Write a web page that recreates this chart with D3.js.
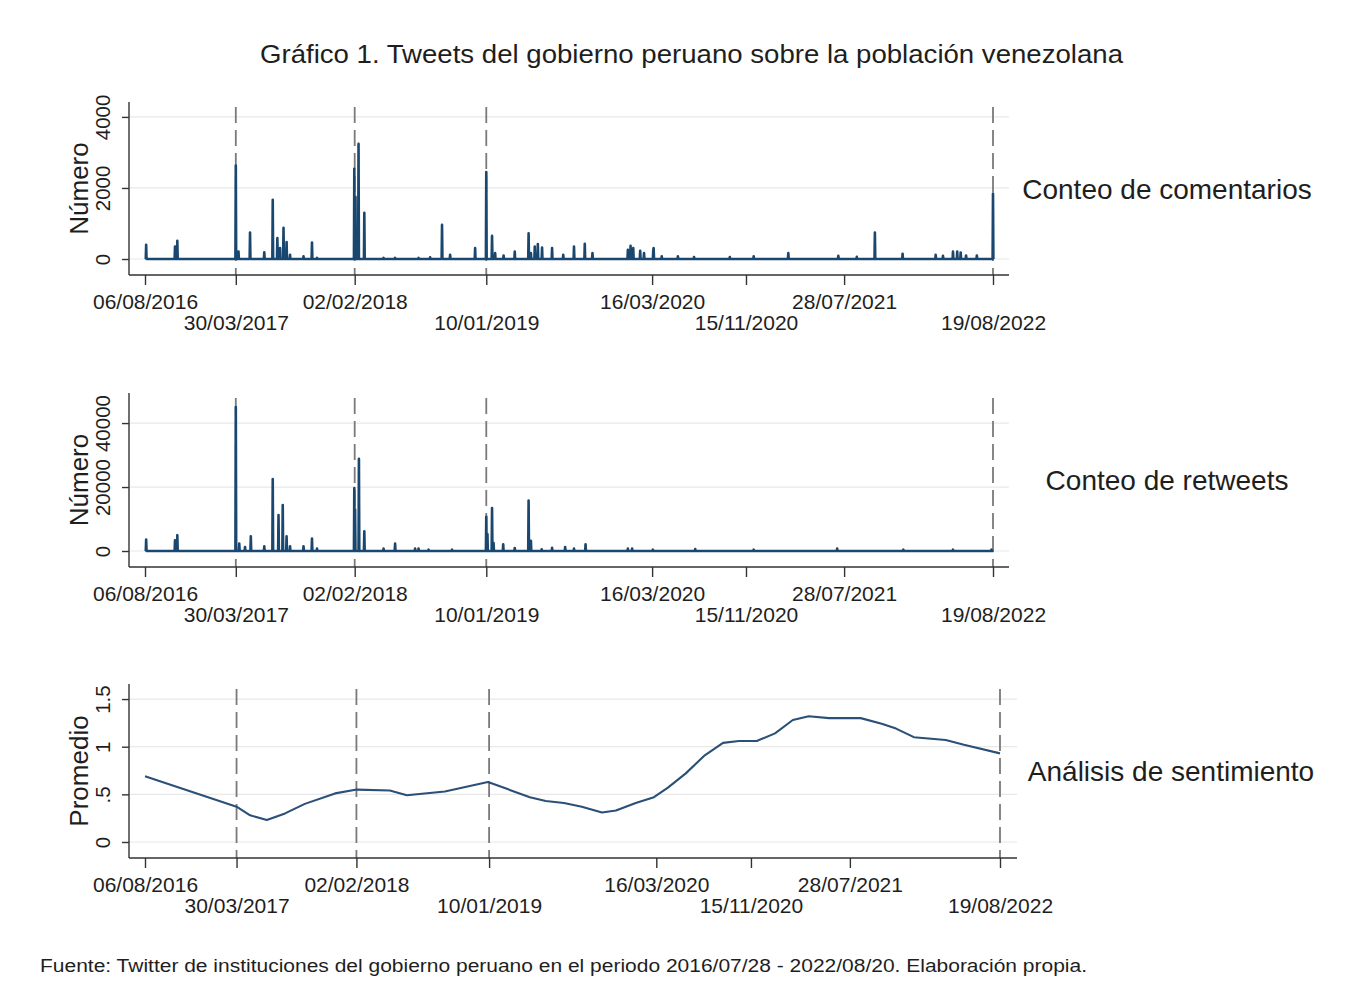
<!DOCTYPE html>
<html>
<head>
<meta charset="utf-8">
<script src="https://cdn.jsdelivr.net/npm/d3@7/dist/d3.min.js"></script>
<style>
    body { margin: 0; background: #fff; }
    text { font-family: "Liberation Sans", Arial, sans-serif; fill: #1e1e1e; }
</style>
</head>
<body>
<svg id="chart" width="1362" height="993"></svg>
<script>
/*jslint browser: true*/
/*global d3*/

// x axis ticks (same for every panel) and the dashed reference dates
var tickDates = ['2016-08-06', '2017-03-30', '2018-02-02', '2019-01-10',
                 '2020-03-16', '2020-11-15', '2021-07-28', '2022-08-19'];
var eventDates = ['2017-03-30', '2018-02-02', '2019-01-10', '2022-08-19'];
var seriesStart = '2016-08-08';
var seriesEnd = '2022-08-20';

// daily comment counts, days not listed are 0
var comentarios = [
    ['2016-08-09', 400], ['2016-10-23', 350], ['2016-10-29', 510],
    ['2017-03-30', 2630], ['2017-04-06', 210], ['2017-05-06', 745], ['2017-06-12', 190],
    ['2017-07-04', 1670], ['2017-07-16', 590], ['2017-07-23', 310], ['2017-08-01', 880],
    ['2017-08-09', 475], ['2017-08-18', 120], ['2017-09-22', 75], ['2017-10-14', 465],
    ['2017-10-27', 30],
    ['2018-02-01', 2540], ['2018-02-04', 1750], ['2018-02-12', 3240], ['2018-02-27', 1300],
    ['2018-04-18', 30], ['2018-05-18', 30], ['2018-07-18', 30], ['2018-08-17', 50],
    ['2018-09-17', 960], ['2018-10-08', 120], ['2018-12-12', 310],
    ['2019-01-10', 2450], ['2019-01-25', 650], ['2019-02-02', 170], ['2019-02-24', 100],
    ['2019-03-25', 210], ['2019-04-30', 725], ['2019-05-06', 170], ['2019-05-16', 350],
    ['2019-05-24', 420], ['2019-06-04', 325], ['2019-06-30', 310], ['2019-07-29', 120],
    ['2019-08-26', 350], ['2019-09-23', 430], ['2019-10-13', 170],
    ['2020-01-13', 260], ['2020-01-20', 370], ['2020-01-27', 310], ['2020-02-14', 230],
    ['2020-02-24', 170], ['2020-03-19', 250], ['2020-03-20', 310], ['2020-04-10', 75],
    ['2020-05-22', 75], ['2020-07-03', 55], ['2020-10-04', 55], ['2020-12-05', 75],
    ['2021-03-05', 170], ['2021-07-13', 90], ['2021-08-30', 60], ['2021-10-16', 745],
    ['2021-12-27', 150],
    ['2022-03-23', 120], ['2022-04-11', 90], ['2022-05-07', 210], ['2022-05-18', 210],
    ['2022-05-27', 185], ['2022-06-10', 100], ['2022-07-08', 100], ['2022-08-19', 1840]
];

// daily retweet counts, days not listed are 0
var retweets = [
    ['2016-08-09', 3580], ['2016-10-23', 3370], ['2016-10-29', 4950],
    ['2017-03-30', 45000], ['2017-04-08', 2300], ['2017-04-23', 1260], ['2017-05-08', 4630],
    ['2017-06-12', 1470], ['2017-07-04', 22500], ['2017-07-19', 11270], ['2017-07-30', 14400],
    ['2017-08-09', 4630], ['2017-08-18', 1470], ['2017-09-22', 1470], ['2017-10-14', 3900],
    ['2017-10-27', 740],
    ['2018-02-01', 19700], ['2018-02-03', 13000], ['2018-02-13', 28800], ['2018-02-27', 6200],
    ['2018-04-18', 740], ['2018-05-18', 2300], ['2018-07-09', 740], ['2018-07-18', 740],
    ['2018-08-13', 420], ['2018-10-13', 420],
    ['2019-01-10', 10700], ['2019-01-13', 5300], ['2019-01-25', 13400], ['2019-01-29', 2500],
    ['2019-02-23', 2100], ['2019-03-25', 950], ['2019-04-30', 15800], ['2019-05-06', 3200],
    ['2019-06-03', 530], ['2019-06-30', 1000], ['2019-08-03', 1260], ['2019-08-26', 740],
    ['2019-09-25', 2100],
    ['2020-01-13', 740], ['2020-01-24', 740], ['2020-03-18', 420], ['2020-07-06', 630],
    ['2020-12-05', 420], ['2021-07-10', 740], ['2021-12-29', 420], ['2022-05-07', 420],
    ['2022-08-15', 420]
];

// smoothed average sentiment
var sentimiento = [
    ['2016-08-06', 0.69], ['2017-03-30', 0.37], ['2017-05-04', 0.28], ['2017-06-16', 0.23],
    ['2017-08-02', 0.30], ['2017-09-22', 0.40], ['2017-12-09', 0.51], ['2018-02-03', 0.55],
    ['2018-04-29', 0.54], ['2018-06-12', 0.49], ['2018-09-18', 0.53], ['2019-01-07', 0.63],
    ['2019-04-25', 0.47], ['2019-06-05', 0.43], ['2019-07-22', 0.41], ['2019-09-06', 0.37],
    ['2019-10-28', 0.31], ['2019-12-03', 0.33], ['2020-01-23', 0.41], ['2020-03-10', 0.47],
    ['2020-04-15', 0.57], ['2020-05-31', 0.72], ['2020-07-19', 0.91], ['2020-09-04', 1.04],
    ['2020-10-15', 1.06], ['2020-11-30', 1.06], ['2021-01-16', 1.14], ['2021-03-03', 1.28],
    ['2021-04-13', 1.32], ['2021-06-04', 1.30], ['2021-08-25', 1.30], ['2021-10-18', 1.24],
    ['2021-11-24', 1.19], ['2022-01-09', 1.10], ['2022-04-01', 1.07], ['2022-05-18', 1.02],
    ['2022-08-19', 0.93]
];

var comentariosTicks = [0, 2000, 4000];
var retweetsTicks = [0, 20000, 40000];
var sentimientoTicks = [0, 0.5, 1, 1.5];

var title = 'Gráfico 1. Tweets del gobierno peruano sobre la población venezolana';
var footer = 'Fuente: Twitter de instituciones del gobierno peruano en el periodo ' +
    '2016/07/28 - 2022/08/20. Elaboración propia.';

var parse = d3.timeParse('%Y-%m-%d'),
    fmtDay = d3.timeFormat('%Y-%m-%d'),
    fmtTick = d3.timeFormat('%d/%m/%Y'),
    navy = '#1a476f',
    svg = d3.select('#chart');

// turn the list of non-zero days into a daily series
function daily(counts) {
    var byDay = new Map(counts),
        days = d3.timeDay.range(parse(seriesStart), d3.timeDay.offset(parse(seriesEnd), 1));
    return days.map(function (day) {
        return {date: day, value: byDay.get(fmtDay(day)) || 0};
    });
}

function pairs(list) {
    return list.map(function (d) { return {date: parse(d[0]), value: d[1]}; });
}

// stata-ish number labels: .5 instead of 0.5
function stataNum(d) {
    return String(d).replace(/^0\./, '.');
}

var panels = [
    {label: 'Conteo de comentarios', ylabel: 'Número', data: daily(comentarios),
     ticks: comentariosTicks, yDomain: [-450, 4420], top: 102, bottom: 275,
     xRange: [145, 993], axisEnd: 1009, labelX: 1167, width: 2.6, color: navy},
    {label: 'Conteo de retweets', ylabel: 'Número', data: daily(retweets),
     ticks: retweetsTicks, yDomain: [-5000, 49400], top: 393, bottom: 567,
     xRange: [145, 993], axisEnd: 1009, labelX: 1167, width: 2.6, color: navy},
    {label: 'Análisis de sentimiento', ylabel: 'Promedio', data: pairs(sentimiento),
     ticks: sentimientoTicks, yDomain: [-0.168, 1.658], top: 684, bottom: 858,
     xRange: [145, 1000], axisEnd: 1017, labelX: 1171, width: 2.1, color: '#2b5077'}
];

var axisLeftX = 129;

svg.append('text')
    .attr('x', 260)
    .attr('y', 63)
    .attr('textLength', 863)
    .attr('lengthAdjust', 'spacingAndGlyphs')
    .style('font-size', '25px')
    .text(title);

svg.append('text')
    .attr('x', 40)
    .attr('y', 972)
    .attr('textLength', 1047)
    .attr('lengthAdjust', 'spacingAndGlyphs')
    .style('font-size', '17.5px')
    .text(footer);

panels.forEach(function (p) {
    var g = svg.append('g'),
        x = d3.scaleTime()
            .domain([parse(tickDates[0]), parse(tickDates[tickDates.length - 1])])
            .range(p.xRange),
        y = d3.scaleLinear().domain(p.yDomain).range([p.bottom, p.top]),
        mid = (p.top + p.bottom) / 2;

    // grid
    g.selectAll('line.grid')
        .data(p.ticks)
        .enter().append('line')
        .attr('class', 'grid')
        .attr('x1', axisLeftX)
        .attr('x2', p.axisEnd)
        .attr('y1', function (d) { return y(d); })
        .attr('y2', function (d) { return y(d); })
        .attr('stroke', '#e8e8e8')
        .attr('stroke-width', 1.2);

    // dashed event lines
    g.selectAll('line.event')
        .data(eventDates)
        .enter().append('line')
        .attr('class', 'event')
        .attr('x1', function (d) { return x(parse(d)); })
        .attr('x2', function (d) { return x(parse(d)); })
        .attr('y1', p.top + 5)
        .attr('y2', p.bottom)
        .attr('stroke', '#7a7a7a')
        .attr('stroke-width', 1.8)
        .attr('stroke-dasharray', '16,7');

    g.append('path')
        .datum(p.data)
        .attr('fill', 'none')
        .attr('stroke', p.color)
        .attr('stroke-width', p.width)
        .attr('stroke-linejoin', 'round')
        .attr('d', d3.line()
              .x(function (d) { return x(d.date); })
              .y(function (d) { return y(d.value); }));

    // y axis
    var yAxis = g.append('g')
        .attr('transform', 'translate(' + axisLeftX + ',0)')
        .call(d3.axisLeft(y).tickValues(p.ticks).tickSize(7).tickFormat(stataNum));
    yAxis.select('.domain').remove();
    yAxis.selectAll('.tick line').attr('stroke', '#333').attr('stroke-width', 1.4);
    yAxis.selectAll('.tick text')
        .attr('x', 0)
        .attr('dy', 0)
        .attr('text-anchor', 'middle')
        .attr('transform', 'translate(-19,0)rotate(-90)')
        .style('font-size', '20.5px')
        .style('font-family', '"Liberation Sans", Arial, sans-serif')
        .attr('fill', '#1e1e1e');

    // x axis
    var xAxis = g.append('g')
        .attr('transform', 'translate(0,' + p.bottom + ')')
        .call(d3.axisBottom(x).tickValues(tickDates.map(parse)).tickSize(10).tickFormat(fmtTick));
    xAxis.select('.domain').remove();
    xAxis.selectAll('.tick line').attr('stroke', '#333').attr('stroke-width', 1.4);
    xAxis.selectAll('.tick text')
        .attr('y', function (d, i) { return i % 2 ? 55 : 34; })
        .attr('dy', 0)
        .style('font-size', '21px')
        .style('font-family', '"Liberation Sans", Arial, sans-serif')
        .attr('fill', '#1e1e1e');

    // axis lines
    g.append('line')
        .attr('x1', axisLeftX).attr('x2', axisLeftX)
        .attr('y1', p.top).attr('y2', p.bottom)
        .attr('stroke', '#333').attr('stroke-width', 1.4);
    g.append('line')
        .attr('x1', axisLeftX).attr('x2', p.axisEnd)
        .attr('y1', p.bottom).attr('y2', p.bottom)
        .attr('stroke', '#333').attr('stroke-width', 1.4);

    g.append('text')
        .attr('transform', 'translate(88,' + mid + ')rotate(-90)')
        .attr('text-anchor', 'middle')
        .style('font-size', '26px')
        .text(p.ylabel);

    g.append('text')
        .attr('x', p.labelX)
        .attr('y', mid + 10)
        .attr('text-anchor', 'middle')
        .style('font-size', '28px')
        .text(p.label);
});
</script>
</body>
</html>
